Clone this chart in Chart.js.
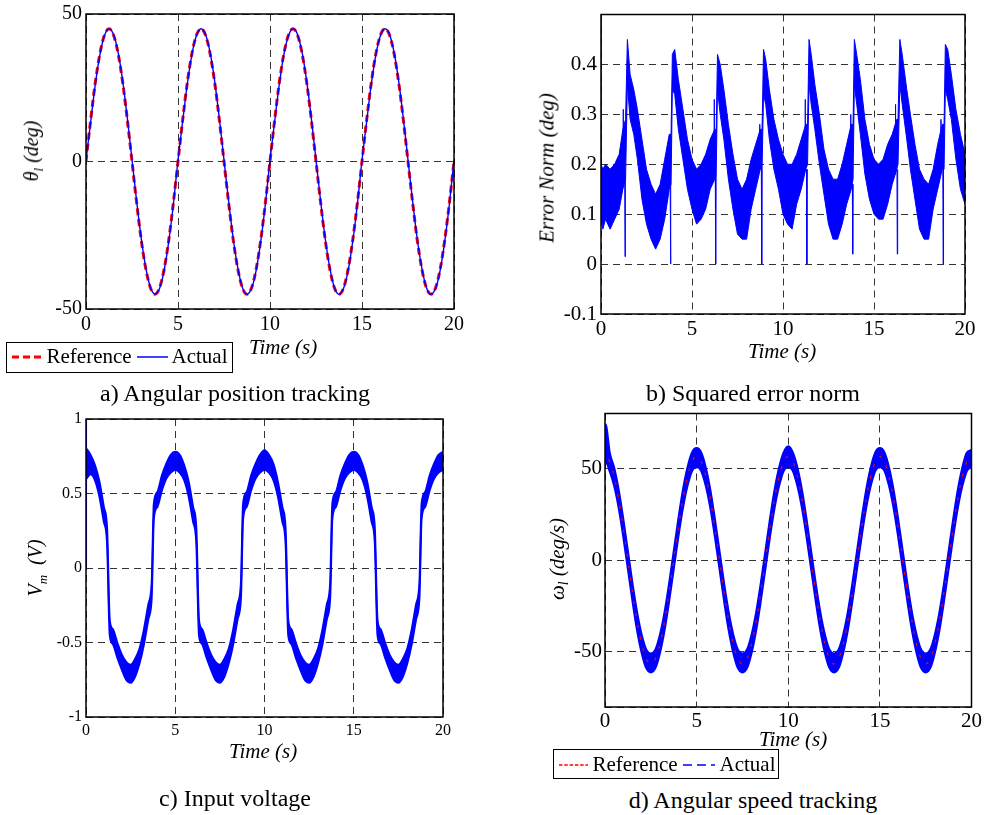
<!DOCTYPE html>
<html>
<head>
<meta charset="utf-8">
<script src="https://cdn.jsdelivr.net/npm/chart.js@4.4.1/dist/chart.umd.min.js"></script>
<style>
body{margin:0;background:#fff;}
#page{position:relative;width:986px;height:815px;overflow:hidden;font-family:"Liberation Serif","Tinos","Times New Roman","DejaVu Serif",serif;color:#000;}
canvas{position:absolute;}
.t{position:absolute;white-space:nowrap;transform:translate(-50%,-50%);line-height:1;}
.it{font-style:italic;font-size:21px;}
.rot{transform:translate(-50%,-50%) rotate(-90deg);}
.cap{font-size:24px;}
.legend{position:absolute;border:1.5px solid #000;background:#fff;box-sizing:border-box;}
.legend span{position:absolute;white-space:nowrap;line-height:1;font-size:21px;}
.legend svg{position:absolute;}
sub{font-size:0.65em;vertical-align:-0.35em;line-height:0;}
</style>
</head>
<body>
<div id="page">
  <canvas id="ca" width="480" height="340" style="left:0;top:0"></canvas>
  <canvas id="cb" width="486" height="345" style="left:500px;top:0"></canvas>
  <canvas id="cc" width="480" height="340" style="left:0;top:405px"></canvas>
  <canvas id="cd" width="486" height="340" style="left:500px;top:400px"></canvas>

  <div class="t it" style="left:283px;top:347px">Time (s)</div>
  <div class="t it rot" style="left:31px;top:151px;font-size:20px">θ<sub>l</sub> (deg)</div>
  <div class="t cap" style="left:235px;top:393px">a) Angular position tracking</div>

  <div class="t it" style="left:782px;top:351px">Time (s)</div>
  <div class="t it rot" style="left:547px;top:168px">Error Norm (deg)</div>
  <div class="t cap" style="left:753px;top:393px">b) Squared error norm</div>

  <div class="t it" style="left:263px;top:751px">Time (s)</div>
  <div class="t it rot" style="left:35px;top:568px;font-size:20px">V<sub>m</sub>&nbsp;&nbsp;(V)</div>
  <div class="t cap" style="left:235px;top:798px">c) Input voltage</div>

  <div class="t it" style="left:793px;top:739px">Time (s)</div>
  <div class="t it rot" style="left:557px;top:559px">ω<sub>l</sub> (deg/s)</div>
  <div class="t cap" style="left:753px;top:800px">d) Angular speed tracking</div>

  <div class="legend" style="left:6px;top:342px;width:227px;height:31px">
    <svg style="left:4.5px;top:10.5px" width="31" height="6"><line x1="0" y1="3" x2="31" y2="3" stroke="#f00" stroke-width="3" stroke-dasharray="7,4"/></svg>
    <span style="left:39.5px;top:3px">Reference</span>
    <svg style="left:129.5px;top:10.5px" width="31" height="6"><line x1="0" y1="3" x2="31" y2="3" stroke="#00f" stroke-width="1.5"/></svg>
    <span style="left:164.5px;top:3px">Actual</span>
  </div>
  <div class="legend" style="left:553px;top:749px;width:226px;height:30px">
    <svg style="left:4.5px;top:11.5px" width="29" height="6"><line x1="0" y1="3" x2="29" y2="3" stroke="#f00" stroke-width="1.5" stroke-dasharray="3.5,1.8"/></svg>
    <span style="left:38.5px;top:4px">Reference</span>
    <svg style="left:128.5px;top:11.5px" width="32" height="6"><line x1="0" y1="3" x2="32" y2="3" stroke="#00f" stroke-width="1.5" stroke-dasharray="9,5"/></svg>
    <span style="left:165.5px;top:4px">Actual</span>
  </div>
</div>
<script>
const FONT = '"Liberation Serif", Tinos, "Times New Roman", "DejaVu Serif", serif';
const xTicks = [0, 5, 10, 15, 20];

// a) angular position (deg)
const aTime = [0,0.25,0.5,0.75,1,1.25,1.5,1.75,2,2.25,2.5,2.75,3,3.25,3.5,3.75,4,4.25,4.5,4.75,
  5,5.25,5.5,5.75,6,6.25,6.5,6.75,7,7.25,7.5,7.75,8,8.25,8.5,8.75,9,9.25,9.5,9.75,
  10,10.25,10.5,10.75,11,11.25,11.5,11.75,12,12.25,12.5,12.75,13,13.25,13.5,13.75,14,14.25,14.5,14.75,
  15,15.25,15.5,15.75,16,16.25,16.5,16.75,17,17.25,17.5,17.75,18,18.25,18.5,18.75,19,19.25,19.5,19.75,20];
const aRef = [0,13.9,26.5,36.4,42.8,45,42.8,36.4,26.5,13.9,0,-13.9,-26.5,-36.4,-42.8,-45,-42.8,-36.4,-26.5,-13.9,
  0,13.9,26.5,36.4,42.8,45,42.8,36.4,26.5,13.9,0,-13.9,-26.5,-36.4,-42.8,-45,-42.8,-36.4,-26.5,-13.9,
  0,13.9,26.5,36.4,42.8,45,42.8,36.4,26.5,13.9,0,-13.9,-26.5,-36.4,-42.8,-45,-42.8,-36.4,-26.5,-13.9,
  0,13.9,26.5,36.4,42.8,45,42.8,36.4,26.5,13.9,0,-13.9,-26.5,-36.4,-42.8,-45,-42.8,-36.4,-26.5,-13.9,0];
const aAct = [0.4,13.2,25.9,36.0,42.6,44.9,43.0,36.9,27.0,14.5,0.6,-13.3,-26.0,-36.1,-42.6,-44.9,-43.0,-36.8,-27.0,-14.4,
  0.5,13.4,26.0,36.1,42.6,45.0,43.0,36.8,26.9,14.4,0.5,-13.4,-26.1,-36.1,-42.7,-45.0,-43.0,-36.8,-26.9,-14.4,
  0.5,13.4,26.0,36.1,42.6,45.0,43.0,36.8,26.9,14.4,0.5,-13.4,-26.1,-36.1,-42.7,-45.0,-43.0,-36.8,-26.9,-14.4,
  0.5,13.4,26.0,36.1,42.6,45.0,43.0,36.8,26.9,14.4,0.5,-13.4,-26.1,-36.1,-42.7,-45.0,-43.0,-36.8,-26.9,-14.4,0.5];

// b) error norm, noisy band read as upper / lower edges plus thin spikes
const bTime = [0,0.1,0.25,0.5,0.75,1,1.2,1.35,1.45,1.6,
  1.8,2,2.25,2.5,2.75,3,3.25,3.5,3.75,3.85,
  3.92,4.05,4.25,4.5,4.75,5,5.25,5.5,5.75,6,
  6.25,6.33,6.4,6.55,6.75,7,7.25,7.5,7.75,8,
  8.25,8.5,8.75,8.85,8.93,9.05,9.25,9.5,9.75,10,
  10.25,10.5,10.75,11,11.25,11.35,11.43,11.55,11.75,12,
  12.25,12.5,12.75,13,13.25,13.5,13.75,13.85,13.92,14.05,
  14.25,14.5,14.75,15,15.25,15.5,15.75,16,16.25,16.32,
  16.42,16.55,16.8,17,17.25,17.5,17.75,18,18.25,18.5,
  18.75,18.85,18.92,19.05,19.25,19.5,19.75,20];
const bUpper = [0.20,0.19,0.20,0.19,0.20,0.22,0.27,0.29,0.45,0.38,
  0.35,0.31,0.25,0.19,0.16,0.14,0.16,0.21,0.26,0.26,
  0.42,0.43,0.37,0.31,0.25,0.21,0.19,0.20,0.22,0.25,
  0.27,0.27,0.42,0.40,0.35,0.28,0.22,0.17,0.15,0.17,
  0.21,0.24,0.27,0.27,0.43,0.41,0.35,0.29,0.25,0.22,
  0.20,0.20,0.22,0.25,0.28,0.28,0.45,0.42,0.36,0.30,
  0.23,0.19,0.17,0.17,0.20,0.24,0.28,0.28,0.45,0.42,
  0.37,0.29,0.24,0.21,0.20,0.21,0.24,0.26,0.29,0.29,
  0.45,0.42,0.35,0.30,0.24,0.19,0.17,0.16,0.19,0.24,
  0.28,0.28,0.44,0.43,0.38,0.31,0.26,0.22];
const bLower = [0.10,0.07,0.09,0.07,0.09,0.11,0.15,0.17,0.36,0.29,
  0.26,0.21,0.13,0.08,0.05,0.03,0.05,0.09,0.15,0.16,
  0.35,0.34,0.27,0.21,0.15,0.11,0.08,0.09,0.11,0.15,
  0.17,0.18,0.35,0.30,0.25,0.17,0.11,0.06,0.05,0.05,
  0.11,0.15,0.19,0.19,0.34,0.32,0.25,0.19,0.15,0.10,
  0.08,0.07,0.12,0.15,0.19,0.20,0.36,0.32,0.27,0.20,
  0.14,0.08,0.05,0.05,0.08,0.12,0.15,0.17,0.36,0.32,
  0.26,0.18,0.13,0.10,0.09,0.09,0.12,0.16,0.19,0.20,
  0.36,0.32,0.25,0.19,0.13,0.07,0.05,0.05,0.11,0.15,
  0.19,0.19,0.35,0.33,0.29,0.21,0.15,0.12];
const bSpikeT = [0,0.01,0.02, 1.21,1.22,1.23,1.24, 1.30,1.32,1.34,1.35, 3.80,3.82,3.84,3.85,
  6.21,6.22,6.23,6.24, 6.28,6.30,6.32,6.33, 8.71,8.72,8.73,8.74, 8.81,8.83,8.85,8.86,
  11.21,11.22,11.23,11.24, 11.29,11.31,11.33,11.34, 13.71,13.72,13.73,13.74, 13.81,13.83,13.85,13.86,
  16.17,16.18,16.19,16.20, 16.26,16.28,16.30,16.31, 18.67,18.68,18.69,18.70, 18.78,18.80,18.82];
const bSpikeV = [0.10,0.50,null, 0.17,0.31,0.17,null, 0.18,0.015,0.18,null, 0.16,0.0,0.16,null,
  0.17,0.33,0.17,null, 0.18,0.0,0.18,null, 0.19,0.28,0.19,null, 0.19,0.0,0.19,null,
  0.19,0.33,0.19,null, 0.19,0.0,0.19,null, 0.16,0.30,0.16,null, 0.16,0.02,0.16,null,
  0.18,0.32,0.18,null, 0.19,0.02,0.19,null, 0.19,0.29,0.19,null, 0.19,0.0,0.19];

// c) input voltage (V)
const cTime = [0.03,0.25,0.5,0.75,1,1.18,1.33,1.5,1.75,2,2.25,2.5,2.75,3,3.25,3.5,3.68,3.8,4,4.25,4.5,4.75,
  5,5.25,5.5,5.75,6,6.18,6.33,6.5,6.75,7,7.25,7.5,7.75,8,8.25,8.5,8.68,8.8,9,9.25,9.5,9.75,
  10,10.25,10.5,10.75,11,11.18,11.33,11.5,11.75,12,12.25,12.5,12.75,13,13.25,13.5,13.68,13.8,14,14.25,14.5,14.75,
  15,15.25,15.5,15.75,16,16.18,16.33,16.5,16.75,17,17.25,17.5,17.75,18,18.25,18.5,18.68,18.8,19,19.25,19.5,19.75,20];
const cUpper = [0.80,0.76,0.69,0.58,0.41,0.27,-0.35,-0.41,-0.50,-0.58,-0.63,-0.65,-0.61,-0.54,-0.41,-0.24,-0.10,0.43,0.51,0.62,0.70,0.76,
  0.78,0.76,0.69,0.58,0.41,0.27,-0.35,-0.41,-0.50,-0.58,-0.63,-0.65,-0.61,-0.54,-0.41,-0.24,-0.10,0.43,0.51,0.62,0.70,0.76,
  0.79,0.76,0.70,0.58,0.41,0.27,-0.35,-0.41,-0.50,-0.58,-0.63,-0.65,-0.61,-0.54,-0.41,-0.24,-0.10,0.43,0.51,0.62,0.70,0.76,
  0.78,0.76,0.69,0.58,0.41,0.27,-0.35,-0.41,-0.50,-0.58,-0.63,-0.65,-0.61,-0.54,-0.41,-0.24,-0.10,0.43,0.51,0.62,0.70,0.76,
  0.78];
const cLower = [0.60,0.63,0.59,0.48,0.31,0.17,-0.45,-0.51,-0.60,-0.68,-0.75,-0.77,-0.73,-0.64,-0.51,-0.34,-0.20,0.33,0.41,0.52,0.60,0.64,
  0.66,0.64,0.59,0.48,0.31,0.17,-0.45,-0.51,-0.60,-0.68,-0.75,-0.77,-0.73,-0.64,-0.51,-0.34,-0.20,0.33,0.41,0.52,0.60,0.64,
  0.66,0.64,0.59,0.48,0.31,0.17,-0.45,-0.51,-0.60,-0.68,-0.75,-0.77,-0.73,-0.64,-0.51,-0.34,-0.20,0.33,0.41,0.52,0.60,0.64,
  0.66,0.64,0.59,0.48,0.31,0.17,-0.45,-0.51,-0.60,-0.68,-0.75,-0.77,-0.73,-0.64,-0.51,-0.34,-0.20,0.33,0.41,0.52,0.60,0.64,
  0.66];
const cSpikeT = [0, 0.01, 0.04];
const cSpikeV = [0.0, 1.0, 0.62];

// d) angular speed (deg/s)
const dTime = [0,0.02,0.25,0.5,0.75,1,1.25,1.5,1.75,2,2.25,2.5,2.75,3,3.25,3.5,3.75,4,4.25,4.5,4.75,
  5,5.25,5.5,5.75,6,6.25,6.5,6.75,7,7.25,7.5,7.75,8,8.25,8.5,8.75,9,9.25,9.5,9.75,
  10,10.25,10.5,10.75,11,11.25,11.5,11.75,12,12.25,12.5,12.75,13,13.25,13.5,13.75,14,14.25,14.5,14.75,
  15,15.25,15.5,15.75,16,16.25,16.5,16.75,17,17.25,17.5,17.75,18,18.25,18.5,18.75,19,19.25,19.5,19.75,20];
const dRef = [0,56.5,53.7,45.7,33.2,17.5,0,-17.5,-33.2,-45.7,-53.7,-56.5,-53.7,-45.7,-33.2,-17.5,0,17.5,33.2,45.7,53.7,
  56.5,53.7,45.7,33.2,17.5,0,-17.5,-33.2,-45.7,-53.7,-56.5,-53.7,-45.7,-33.2,-17.5,0,17.5,33.2,45.7,53.7,
  56.5,53.7,45.7,33.2,17.5,0,-17.5,-33.2,-45.7,-53.7,-56.5,-53.7,-45.7,-33.2,-17.5,0,17.5,33.2,45.7,53.7,
  56.5,53.7,45.7,33.2,17.5,0,-17.5,-33.2,-45.7,-53.7,-56.5,-53.7,-45.7,-33.2,-17.5,0,17.5,33.2,45.7,53.7,56.5];
const dUpper = [70,74,58.5,50,37.5,21.5,4,-13.5,-29,-41,-49,-51,-49,-41,-29,-13.5,4,21.5,37.5,50,58.5,
  61,58.5,50,37.5,21.5,4,-13.5,-29,-41,-49,-51,-49,-41,-29,-13.5,4,21.5,37.5,50,58.5,
  62,58.5,50,37.5,21.5,4,-13.5,-29,-41,-49,-51,-49,-41,-29,-13.5,4,21.5,37.5,50,58.5,
  61,58.5,50,37.5,21.5,4,-13.5,-29,-41,-49,-51,-49,-41,-29,-13.5,4,21.5,37.5,50,58.5,60];
const dLower = [52,55,49,41,29,13.5,-4,-21.5,-37.5,-50,-58.5,-61,-58.5,-50,-37.5,-21.5,-4,13.5,29,41,49,
  51,49,41,29,13.5,-4,-21.5,-37.5,-50,-58.5,-61,-58.5,-50,-37.5,-21.5,-4,13.5,29,41,49,
  51,49,41,29,13.5,-4,-21.5,-37.5,-50,-58.5,-61,-58.5,-50,-37.5,-21.5,-4,13.5,29,41,49,
  51,49,41,29,13.5,-4,-21.5,-37.5,-50,-58.5,-61,-58.5,-50,-37.5,-21.5,-4,13.5,29,41,49,51];

function pts(xs, ys) {
  return xs.map((x, i) => ({ x: x, y: ys[i] }));
}

const framePlugin = {
  id: 'frame',
  afterDraw(chart) {
    const { ctx, chartArea: a } = chart;
    ctx.save();
    ctx.strokeStyle = '#000';
    ctx.lineWidth = 1.5;
    ctx.strokeRect(a.left, a.top, a.right - a.left, a.bottom - a.top);
    ctx.restore();
  }
};

function makeChart(id, datasets, o) {
  const tickFont = { family: FONT, size: o.fs, lineHeight: 1 };
  return new Chart(document.getElementById(id), {
    type: 'line',
    data: { datasets: datasets },
    options: {
      responsive: false,
      animation: false,
      devicePixelRatio: 1,
      layout: { padding: o.pad },
      plugins: { legend: { display: false }, tooltip: { enabled: false } },
      elements: { point: { radius: 0 } },
      scales: {
        x: {
          type: 'linear', min: 0, max: 20,
          afterBuildTicks: s => { s.ticks = xTicks.map(v => ({ value: v })); },
          afterFit: s => { s.height = o.xH; },
          grid: { color: '#333', lineWidth: 1, drawTicks: false },
          border: { display: false, dash: [7, 5] },
          ticks: { font: tickFont, color: '#000', padding: o.xPad, maxRotation: 0, autoSkip: false,
                   callback: v => String(v) }
        },
        y: {
          type: 'linear', min: o.yMin, max: o.yMax,
          afterBuildTicks: s => { s.ticks = o.yGrid.map(v => ({ value: v })); },
          afterFit: s => { s.width = o.yW; },
          grid: { color: '#333', lineWidth: 1, drawTicks: false },
          border: { display: false, dash: [7, 5] },
          ticks: { font: tickFont, color: '#000', padding: o.yPad, autoSkip: false,
                   callback: v => (o.yLabels.includes(v) ? String(v) : '') }
        }
      }
    },
    plugins: [framePlugin]
  });
}

function drawAll() {
  // a
  makeChart('ca', [
    { data: pts(aTime, aAct), borderColor: '#0000ff', borderWidth: 1.4, cubicInterpolationMode: 'monotone', fill: false },
    { data: pts(aTime, aRef), borderColor: '#ff0000', borderWidth: 3, borderDash: [7, 4], cubicInterpolationMode: 'monotone', fill: false }
  ], { pad: { left: 0, top: 12, right: 26, bottom: 3 }, yW: 86, xH: 28, fs: 20, xPad: 6, yPad: 4,
       yMin: -50, yMax: 50, yGrid: [-50, 0, 50], yLabels: [-50, 0, 50] });

  // b
  makeChart('cb', [
    { data: pts(bSpikeT, bSpikeV), borderColor: '#0000ff', borderWidth: 1, fill: false, spanGaps: false },
    { data: pts(bTime, bUpper), borderColor: '#0000ff', borderWidth: 1, fill: false },
    { data: pts(bTime, bLower), borderColor: '#0000ff', borderWidth: 1, fill: '-1', backgroundColor: '#0000ff' }
  ], { pad: { left: 0, top: 14, right: 21, bottom: 3 }, yW: 101, xH: 28, fs: 21, xPad: 5, yPad: 4,
       yMin: -0.1, yMax: 0.5, yGrid: [-0.1, 0, 0.1, 0.2, 0.3, 0.4, 0.5], yLabels: [-0.1, 0, 0.1, 0.2, 0.3, 0.4] });

  // c
  makeChart('cc', [
    { data: pts(cSpikeT, cSpikeV), borderColor: '#0000ff', borderWidth: 1.2, fill: false },
    { data: pts(cTime, cUpper), borderColor: '#0000ff', borderWidth: 2, cubicInterpolationMode: 'monotone', fill: false },
    { data: pts(cTime, cLower), borderColor: '#0000ff', borderWidth: 2, cubicInterpolationMode: 'monotone', fill: '-1', backgroundColor: '#0000ff' }
  ], { pad: { left: 0, top: 14, right: 37, bottom: 2 }, yW: 86, xH: 26, fs: 16, xPad: 6, yPad: 4,
       yMin: -1, yMax: 1, yGrid: [-1, -0.5, 0, 0.5, 1], yLabels: [-1, -0.5, 0, 0.5, 1] });

  // d
  makeChart('cd', [
    { data: pts(dTime, dRef), borderColor: '#ff0000', borderWidth: 1.2, borderDash: [3, 9], cubicInterpolationMode: 'monotone', fill: false },
    { data: pts(dTime, dUpper), borderColor: '#0000ff', borderWidth: 2.5, cubicInterpolationMode: 'monotone', fill: false },
    { data: pts(dTime, dLower), borderColor: '#0000ff', borderWidth: 2.5, cubicInterpolationMode: 'monotone', fill: '-1', backgroundColor: '#0000ff' }
  ], { pad: { left: 0, top: 12, right: 14, bottom: 5 }, yW: 105, xH: 28, fs: 21, xPad: 4, yPad: 3,
       yMin: -80, yMax: 80, yGrid: [-80, -50, 0, 50, 80], yLabels: [-50, 0, 50] });
}

// make sure the serif face is loaded before the canvases measure text
Promise.all([
  document.fonts.load('20px "Liberation Serif"'),
  document.fonts.load('italic 20px "Liberation Serif"')
]).catch(() => {}).then(drawAll);
</script>
</body>
</html>
